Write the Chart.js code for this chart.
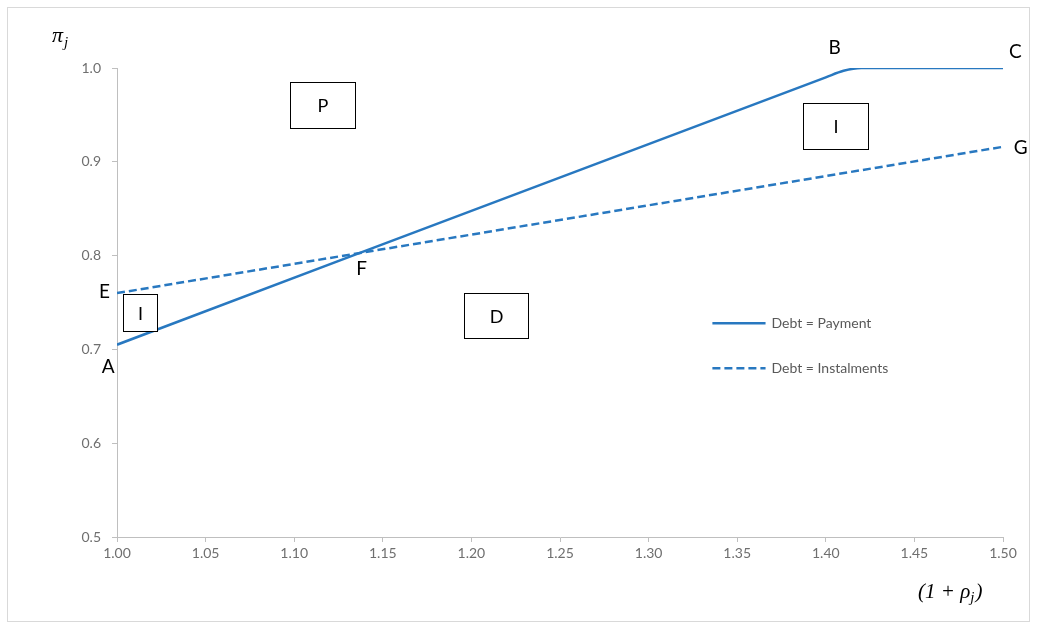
<!DOCTYPE html>
<html>
<head>
<meta charset="utf-8">
<script src="https://cdn.jsdelivr.net/npm/chart.js@4/dist/chart.umd.min.js"></script>
<style>
  body { margin: 0; background: #fff; }
  #wrap { width: 1037px; height: 629px; }
</style>
</head>
<body>
<div id="wrap"><canvas id="chart" width="1037" height="629"></canvas></div>
<script>
// values
const paymentX = [1.00, 1.40, 1.41, 1.42, 1.50];
const paymentY = [0.705, 0.990, 0.997, 1.000, 1.000];
const instalX = [1.00, 1.50];
const instalY = [0.760, 0.916];
const xTicks = [1.00, 1.05, 1.10, 1.15, 1.20, 1.25, 1.30, 1.35, 1.40, 1.45, 1.50];
const yTicks = [0.5, 0.6, 0.7, 0.8, 0.9, 1.0];

// point letters and region boxes (data coordinates)
const letters = [
  { t: 'A', x: 0.995, y: 0.681 },
  { t: 'E', x: 0.993, y: 0.761 },
  { t: 'F', x: 1.138, y: 0.786 },
  { t: 'B', x: 1.405, y: 1.021 },
  { t: 'C', x: 1.507, y: 1.017 },
  { t: 'G', x: 1.510, y: 0.915 }
];
const boxes = [
  { t: 'P', x1: 1.0976, x2: 1.1343, y1: 0.985, y2: 0.936 },
  { t: 'I', x1: 1.387, x2: 1.424, y1: 0.963, y2: 0.914 },
  { t: 'D', x1: 1.196, x2: 1.232, y1: 0.760, y2: 0.712 },
  { t: 'I', x1: 1.0034, x2: 1.0226, y1: 0.759, y2: 0.720 }
];

const blue = '#2878c0';
const font = 'Lato, "Open Sans", sans-serif';
const toPts = (xs, ys) => xs.map((x, i) => ({ x: x, y: ys[i] }));

const extras = {
  id: 'extras',
  beforeDraw(chart) {
    const c = chart.ctx;
    c.save();
    c.fillStyle = '#fff';
    c.fillRect(0, 0, chart.width, chart.height);
    c.strokeStyle = '#d9d9d9';
    c.lineWidth = 1;
    c.strokeRect(7.5, 7.5, chart.width - 15, chart.height - 15);
    c.restore();
  },
  afterDatasetsDraw(chart) {
    const c = chart.ctx;
    const xs = chart.scales.x, ys = chart.scales.y;
    c.save();
    c.fillStyle = '#000';
    c.textAlign = 'center';
    c.textBaseline = 'middle';
    c.font = '19px ' + font;
    letters.forEach(l => c.fillText(l.t, xs.getPixelForValue(l.x), ys.getPixelForValue(l.y)));

    c.strokeStyle = '#000';
    c.lineWidth = 1;
    c.font = '18px ' + font;
    boxes.forEach(b => {
      const x1 = Math.round(xs.getPixelForValue(b.x1)) + 0.5;
      const x2 = Math.round(xs.getPixelForValue(b.x2)) + 0.5;
      const y1 = Math.round(ys.getPixelForValue(b.y1)) + 0.5;
      const y2 = Math.round(ys.getPixelForValue(b.y2)) + 0.5;
      c.fillStyle = '#fff';
      c.fillRect(x1, y1, x2 - x1, y2 - y1);
      c.strokeRect(x1, y1, x2 - x1, y2 - y1);
      c.fillStyle = '#000';
      c.fillText(b.t, (x1 + x2) / 2, (y1 + y2) / 2 + 1);
    });

    // legend
    const lx1 = xs.getPixelForValue(1.336), lx2 = xs.getPixelForValue(1.366);
    const rows = [
      { y: ys.getPixelForValue(0.728), dash: [], label: 'Debt = Payment' },
      { y: ys.getPixelForValue(0.680), dash: [8, 4], label: 'Debt = Instalments' }
    ];
    c.font = '14px ' + font;
    c.textAlign = 'left';
    rows.forEach(r => {
      c.strokeStyle = blue;
      c.lineWidth = 2.5;
      c.setLineDash(r.dash);
      c.beginPath();
      c.moveTo(lx1, r.y);
      c.lineTo(lx2, r.y);
      c.stroke();
      c.setLineDash([]);
      c.fillStyle = '#595959';
      c.fillText(r.label, lx2 + 6, r.y);
    });

    // axis titles
    const serif = '"Liberation Serif", "DejaVu Serif", serif';
    c.fillStyle = '#000';
    c.textAlign = 'left';
    c.textBaseline = 'alphabetic';
    c.font = 'italic 22px ' + serif;
    c.fillText('\u03c0', 52, 42);
    c.font = 'italic 15px ' + serif;
    c.fillText('j', 64, 47);

    let x = 918;
    const base = 598;
    c.font = 'italic 21px ' + serif;
    c.fillText('(1 + \u03c1', x, base);
    x += c.measureText('(1 + \u03c1').width;
    c.font = 'italic 15px ' + serif;
    c.fillText('j', x, base + 4);
    x += c.measureText('j').width + 1;
    c.font = 'italic 21px ' + serif;
    c.fillText(')', x, base);
    c.restore();
  }
};

new Chart(document.getElementById('chart').getContext('2d'), {
  type: 'line',
  data: {
    datasets: [
      {
        label: 'Debt = Payment',
        data: toPts(paymentX, paymentY),
        borderColor: blue,
        borderWidth: 2.5,
        pointRadius: 0,
        cubicInterpolationMode: 'monotone',
        fill: false
      },
      {
        label: 'Debt = Instalments',
        data: toPts(instalX, instalY),
        borderColor: blue,
        borderWidth: 2.5,
        borderDash: [8, 4],
        pointRadius: 0,
        fill: false
      }
    ]
  },
  options: {
    responsive: false,
    animation: false,
    layout: { padding: { top: 68, right: 34, left: 0, bottom: 0 } },
    plugins: { legend: { display: false }, tooltip: { enabled: false } },
    scales: {
      x: {
        type: 'linear',
        min: 1.0,
        max: 1.5,
        afterBuildTicks: s => { s.ticks = xTicks.map(v => ({ value: v })); },
        afterFit: s => { s.height = 92; },
        border: { color: '#bfbfbf' },
        grid: { drawOnChartArea: false, tickLength: 5, color: '#bfbfbf' },
        ticks: {
          color: '#6f6f6f',
          padding: 3,
          font: { size: 14, family: font },
          callback: v => v.toFixed(2)
        }
      },
      y: {
        min: 0.5,
        max: 1.0,
        afterBuildTicks: s => { s.ticks = yTicks.map(v => ({ value: v })); },
        afterFit: s => { s.width = 117; },
        border: { color: '#bfbfbf' },
        grid: { drawOnChartArea: false, tickLength: 5, color: '#bfbfbf' },
        ticks: {
          color: '#6f6f6f',
          padding: 11,
          font: { size: 14, family: font },
          callback: v => v.toFixed(1)
        }
      }
    }
  },
  plugins: [extras]
});
</script>
</body>
</html>
